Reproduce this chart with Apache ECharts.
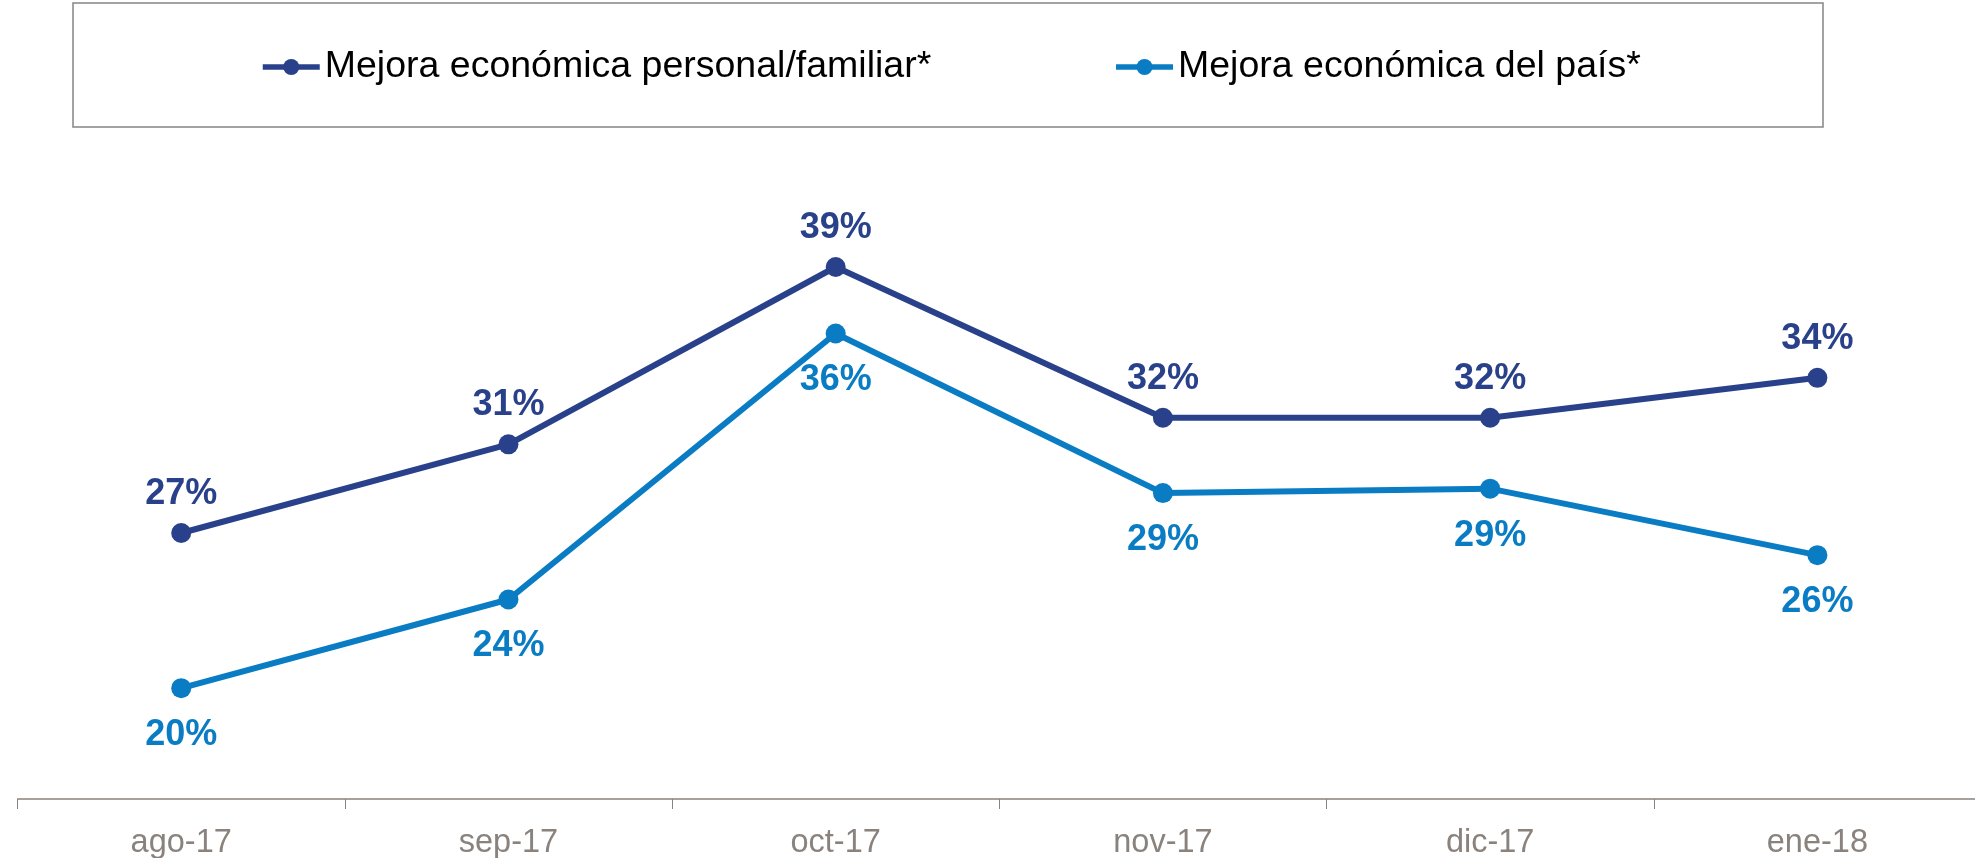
<!DOCTYPE html>
<html>
<head>
<meta charset="utf-8">
<script src="https://cdn.jsdelivr.net/npm/echarts@6/dist/echarts.min.js"></script>
<style>
  html, body { margin: 0; padding: 0; background: #fff; overflow: hidden; }
  #chart { width: 1975px; height: 858px; }
</style>
</head>
<body>
<div id="chart"></div>
<script>
var categories = ['ago-17', 'sep-17', 'oct-17', 'nov-17', 'dic-17', 'ene-18']
var personal = [27, 31, 39, 32.2, 32.2, 34]
var pais = [20, 24, 36, 28.8, 29, 26]
var seriesNames = ['Mejora económica personal/familiar*', 'Mejora económica del país*']

var darkBlue = '#28418a'
var lightBlue = '#0a7cc4'
var font = "'Liberation Sans', Arial, sans-serif"

var chart = echarts.init(document.getElementById('chart'))
chart.setOption({
  animation: false,
  textStyle: { fontFamily: font },
  graphic: [{
    type: 'rect',
    shape: { x: 73, y: 3, width: 1750, height: 124 },
    style: { fill: '#fff', stroke: '#858585', lineWidth: 1.5 },
    z: -1
  }],
  legend: {
    left: 255,
    top: 43,
    itemWidth: 57,
    itemHeight: 20,
    itemGap: 182,
    lineStyle: { width: 5.5 },
    textStyle: { color: '#000', fontSize: 37.5, fontFamily: font },
    data: seriesNames
  },
  grid: {
    left: 17.6,
    right: -6,
    top: 134,
    bottom: 59,
    outerBoundsMode: 'none'
  },
  xAxis: {
    type: 'category',
    data: categories,
    boundaryGap: true,
    axisLine: { lineStyle: { color: '#8a827d', width: 1.5 } },
    axisTick: { show: true, length: 10, lineStyle: { color: '#8a827d' } },
    axisLabel: { color: '#8a827d', fontSize: 32.5, margin: 28, fontFamily: font }
  },
  yAxis: {
    type: 'value',
    min: 15,
    max: 45,
    show: false,
    splitLine: { show: false }
  },
  series: [{
    name: seriesNames[0],
    type: 'line',
    data: personal,
    color: darkBlue,
    symbol: 'circle',
    symbolSize: 20,
    lineStyle: { width: 6, color: darkBlue },
    label: {
      show: true,
      position: 'top',
      distance: 11,
      color: darkBlue,
      fontSize: 36,
      fontWeight: 'bold',
      fontFamily: font,
      formatter: function (p) { return Math.round(p.value) + '%' }
    }
  }, {
    name: seriesNames[1],
    type: 'line',
    data: pais,
    color: lightBlue,
    symbol: 'circle',
    symbolSize: 20,
    lineStyle: { width: 6, color: lightBlue },
    label: {
      show: true,
      position: 'bottom',
      distance: 19,
      color: lightBlue,
      fontSize: 36,
      fontWeight: 'bold',
      fontFamily: font,
      formatter: function (p) { return Math.round(p.value) + '%' }
    }
  }]
})
</script>
</body>
</html>
